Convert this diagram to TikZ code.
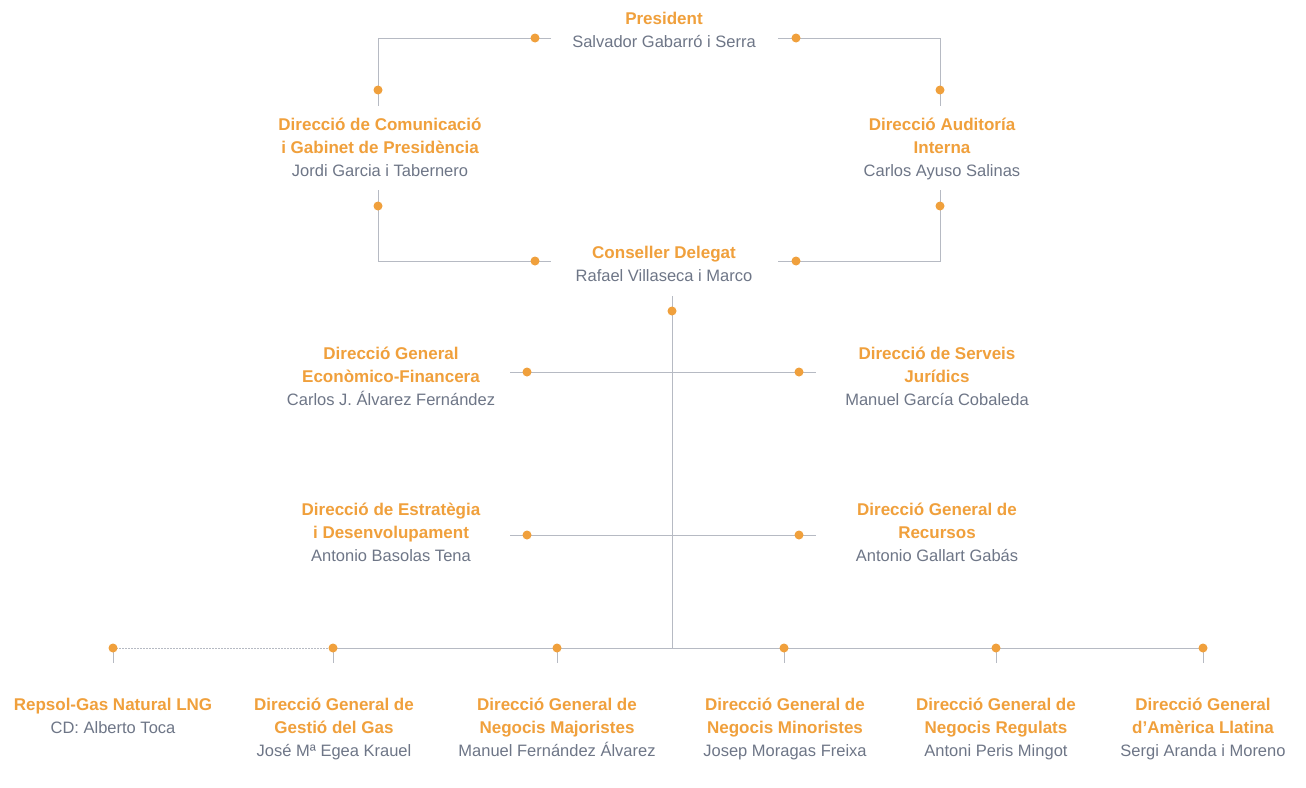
\documentclass[tikz,border=0pt]{standalone}
\usepackage{fontspec}
\setmainfont{Liberation Sans}
\definecolor{org}{HTML}{F0A03C}
\definecolor{gtxt}{HTML}{6E7687}
\definecolor{lin}{HTML}{B6BAC3}
\newcommand\ttl[1]{{\color{org}\bfseries\fontsize{17}{23}\selectfont #1}}
\tikzset{
  lbl/.style={anchor=north,inner sep=0pt,align=center,text=gtxt,font=\fontsize{16.5}{23}\selectfont},
  conn/.style={draw=lin,line width=1pt},
  dotted conn/.style={draw=lin,line width=1pt,dash pattern=on 1.5pt off 1.5pt},
  pin/.style={circle,fill=org,inner sep=0pt,minimum size=9pt}
}
\begin{document}
\begin{tikzpicture}[x=1pt,y=-1pt]
\useasboundingbox[fill=white] (0,0) rectangle (1306,787);
% labels
\node[lbl] (pres) at (664,8) {\strut\ttl{President}\\Salvador Gabarró i Serra};
\node[lbl] (com) at (380,114) {\strut\ttl{Direcció de Comunicació}\\\ttl{i Gabinet de Presidència}\\Jordi Garcia i Tabernero};
\node[lbl] (aud) at (942,114) {\strut\ttl{Direcció Auditoría}\\\ttl{Interna}\\Carlos Ayuso Salinas};
\node[lbl] (cd) at (664,242) {\strut\ttl{Conseller Delegat}\\Rafael Villaseca i Marco};
\node[lbl] (eco) at (391,343) {\strut\ttl{Direcció General}\\\ttl{Econòmico-Financera}\\Carlos J. Álvarez Fernández};
\node[lbl] (jur) at (937,343) {\strut\ttl{Direcció de Serveis}\\\ttl{Jurídics}\\Manuel García Cobaleda};
\node[lbl] (est) at (391,499) {\strut\ttl{Direcció de Estratègia}\\\ttl{i Desenvolupament}\\Antonio Basolas Tena};
\node[lbl] (rec) at (937,499) {\strut\ttl{Direcció General de}\\\ttl{Recursos}\\Antonio Gallart Gabás};
\node[lbl] (lng) at (113,694) {\strut\ttl{Repsol-Gas Natural LNG}\\CD: Alberto Toca};
\node[lbl] (gas) at (334,694) {\strut\ttl{Direcció General de}\\\ttl{Gestió del Gas}\\José Mª Egea Krauel};
\node[lbl] (maj) at (557,694) {\strut\ttl{Direcció General de}\\\ttl{Negocis Majoristes}\\Manuel Fernández Álvarez};
\node[lbl] (min) at (785,694) {\strut\ttl{Direcció General de}\\\ttl{Negocis Minoristes}\\Josep Moragas Freixa};
\node[lbl] (reg) at (996,694) {\strut\ttl{Direcció General de}\\\ttl{Negocis Regulats}\\Antoni Peris Mingot};
\node[lbl] (lat) at (1203,694) {\strut\ttl{Direcció General}\\\ttl{d’Amèrica Llatina}\\Sergi Aranda i Moreno};
% coordinates
\coordinate (pl) at (551,38);  \coordinate (pr) at (778,38);
\coordinate (plc) at (378,38); \coordinate (prc) at (940,38);
\coordinate (comt) at (378,106); \coordinate (audt) at (940,106);
\coordinate (comb) at (378,190); \coordinate (audb) at (940,190);
\coordinate (cdl) at (551,261); \coordinate (cdr) at (778,261);
\coordinate (cdlc) at (378,261); \coordinate (cdrc) at (940,261);
\coordinate (trt) at (672,296); \coordinate (trb) at (672,648);
\coordinate (r1l) at (510,372); \coordinate (r1r) at (816,372);
\coordinate (r2l) at (510,535); \coordinate (r2r) at (816,535);
\foreach \n/\x in {lng/113,gas/333,maj/557,min/784,reg/996,lat/1203}{
  \coordinate (b\n) at (\x,648); \coordinate (t\n) at (\x,663);
}
% connectors
\draw[conn] (pl) -- (plc) -- (comt);
\draw[conn] (pr) -- (prc) -- (audt);
\draw[conn] (comb) -- (cdlc) -- (cdl);
\draw[conn] (audb) -- (cdrc) -- (cdr);
\draw[conn] (trt) -- (trb);
\draw[conn] (r1l) -- (r1r);
\draw[conn] (r2l) -- (r2r);
\draw[dotted conn] (blng) -- (bgas);
\draw[conn] (bgas) -- (blat);
\foreach \n in {lng,gas,maj,min,reg,lat}{\draw[conn] (b\n) -- (t\n);}
% pins
\node[pin] (d1) at (535,38) {};
\node[pin] (d2) at (796,38) {};
\node[pin] (d3) at (378,90) {};
\node[pin] (d4) at (940,90) {};
\node[pin] (d5) at (378,206) {};
\node[pin] (d6) at (940,206) {};
\node[pin] (d7) at (535,261) {};
\node[pin] (d8) at (796,261) {};
\node[pin] (d9) at (672,311) {};
\node[pin] (d10) at (527,372) {};
\node[pin] (d11) at (799,372) {};
\node[pin] (d12) at (527,535) {};
\node[pin] (d13) at (799,535) {};
\foreach \n in {lng,gas,maj,min,reg,lat}{\node[pin] (p\n) at (b\n) {};}
\end{tikzpicture}
\end{document}
